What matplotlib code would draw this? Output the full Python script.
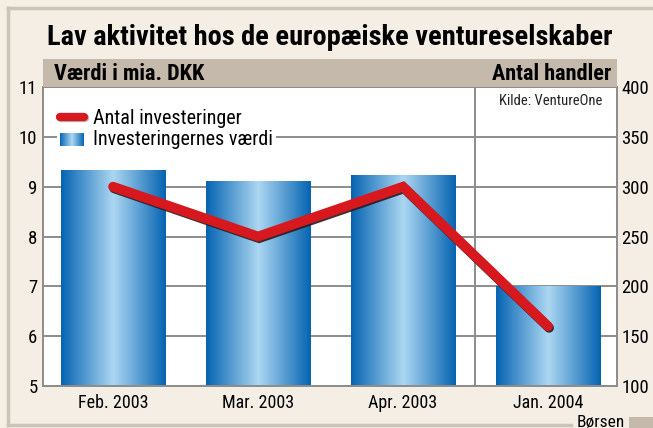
import numpy as np
import matplotlib
matplotlib.use("Agg")
import matplotlib.pyplot as plt
import matplotlib.patheffects as pe
from matplotlib import font_manager
from matplotlib.patches import Rectangle
from matplotlib.lines import Line2D
from matplotlib.legend_handler import HandlerBase

# data
months = ["Feb. 2003", "Mar. 2003", "Apr. 2003", "Jan. 2004"]
value_bn_dkk = [9.33, 9.1, 9.22, 7.0]
num_deals = [300, 250, 300, 160]
left_ticks = [5, 6, 7, 8, 9, 10, 11]
right_ticks = [100, 150, 200, 250, 300, 350, 400]

# pick a condensed font if there is one
names = {f.name for f in font_manager.fontManager.ttflist}
family = "DejaVu Sans"
for cand in ["Liberation Sans Narrow", "Roboto Condensed", "Open Sans Condensed", "Noto Sans", "Liberation Sans"]:
    if cand in names:
        family = cand
        break
plt.rcParams["font.family"] = [family, "DejaVu Sans"]

W, H = 653, 428
bg = "#F4EEE5"
frame_col = "#CDC3B6"
band_col = "#C5B9AB"
grid_col = "#8C8C8C"
dark_blue = np.array([0x06, 0x64, 0xB2]) / 255
light_blue = np.array([0xAC, 0xD7, 0xF2]) / 255
red = "#D7191F"


def grad_color(t):
    k = 1 - abs(2 * t - 1)
    return dark_blue + (light_blue - dark_blue) * k


def fx(px):
    return px / W


def fy(py):
    return 1 - py / H


fig = plt.figure(figsize=(W / 100, H / 100), dpi=100, facecolor=bg)

# outer frame
fig.add_artist(Line2D([fx(8), fx(8)], [fy(8), fy(425)], color=frame_col, lw=2.5))
fig.add_artist(Line2D([fx(8), 1], [fy(8), fy(8)], color=frame_col, lw=2.5))
fig.add_artist(Line2D([fx(8), fx(571)], [fy(425), fy(425)], color=frame_col, lw=2.5))
fig.add_artist(Rectangle((fx(629), 0), 1 - fx(629), fy(417), transform=fig.transFigure,
                         facecolor=band_col, edgecolor="none"))
fig.text(fx(601), fy(422), "Børsen", ha="center", va="center", fontsize=12.5)

# header band
fig.add_artist(Rectangle((fx(43), fy(87)), fx(617) - fx(43), fy(59) - fy(87),
                         transform=fig.transFigure, facecolor=band_col, edgecolor="none"))
fig.text(fx(54), fy(74), "Værdi i mia. DKK", ha="left", va="center", fontsize=16, fontweight="bold")
fig.text(fx(611), fy(74), "Antal handler", ha="right", va="center", fontsize=16, fontweight="bold")

# title, fitted to the width of the reference
title = fig.text(fx(330), fy(45), "Lav aktivitet hos de europæiske ventureselskaber",
                 ha="center", va="baseline", fontsize=19, fontweight="bold")
r = fig.canvas.get_renderer()
tw = title.get_window_extent(r).width
title.set_fontsize(19 * 564 / tw)

ax = fig.add_axes([fx(43), fy(386), fx(617) - fx(43), fy(87) - fy(386)])
ax.set_facecolor("white")
x = np.arange(len(months))
ax.set_xlim(-0.483, 3.476)
ax.set_ylim(5, 11)
bw = 0.72

grad = np.array([[grad_color(t) for t in np.linspace(0, 1, 200)]])
for xi, v in zip(x, value_bn_dkk):
    ax.imshow(grad, extent=[xi - bw / 2, xi + bw / 2, 5, v], aspect="auto",
              interpolation="bilinear", zorder=2)

ax.set_yticks(left_ticks)
ax.set_xticks(x)
ax.set_xticklabels(months, fontsize=13)
ax.tick_params(axis="both", length=0)
ax.tick_params(axis="y", labelsize=13.5, pad=4)
ax.tick_params(axis="x", pad=6)
ax.grid(axis="y", color=grid_col, lw=1.4)
ax.set_axisbelow(True)
ax.axvline(2.5, color=grid_col, lw=1.4, zorder=1)
for s in ax.spines.values():
    s.set_color(grid_col)
    s.set_linewidth(1.4)

ax2 = ax.twinx()
ax2.set_ylim(100, 400)
ax2.set_yticks(right_ticks)
ax2.tick_params(axis="y", length=0, labelsize=13.5, pad=3)
for s in ax2.spines.values():
    s.set_visible(False)
ax2.plot(x, num_deals, color=red, lw=7, solid_capstyle="round", solid_joinstyle="miter",
         path_effects=[pe.SimpleLineShadow(offset=(0.8, -1.2), shadow_color="#2A1A1A", alpha=0.9),
                       pe.Normal()], zorder=5)

ax2.text(0.975, 0.953, "Kilde: VentureOne", transform=ax.transAxes, ha="right", va="center",
         fontsize=10.5, color="#222222")


class GradHandler(HandlerBase):
    def create_artists(self, legend, orig, xd, yd, w, h, fontsize, trans):
        arts = []
        n = 24
        for i in range(n):
            t = (i + 0.5) / n
            arts.append(Rectangle((xd + w * i / n, yd - h * 0.05), w / n * 1.1, h * 0.9,
                                  facecolor=grad_color(t), edgecolor="none", transform=trans))
        return arts


line_handle = Line2D([0], [0], color=red, lw=6, solid_capstyle="round",
                     path_effects=[pe.SimpleLineShadow(offset=(0.6, -0.8), shadow_color="#2A1A1A"),
                                   pe.Normal()])
bar_handle = Rectangle((0, 0), 1, 1)
leg = ax2.legend([line_handle, bar_handle], ["Antal investeringer", "Investeringernes værdi"],
                 handler_map={Rectangle: GradHandler()},
                 loc="upper left", bbox_to_anchor=(fx(57), fy(106)), bbox_transform=fig.transFigure,
                 fontsize=14.5, frameon=True, facecolor="white", edgecolor="none", framealpha=1,
                 fancybox=False, borderpad=0.15, handlelength=1.2, handletextpad=0.45,
                 labelspacing=0.12, borderaxespad=0)

fig.savefig("out.png", dpi=100, facecolor=bg)
